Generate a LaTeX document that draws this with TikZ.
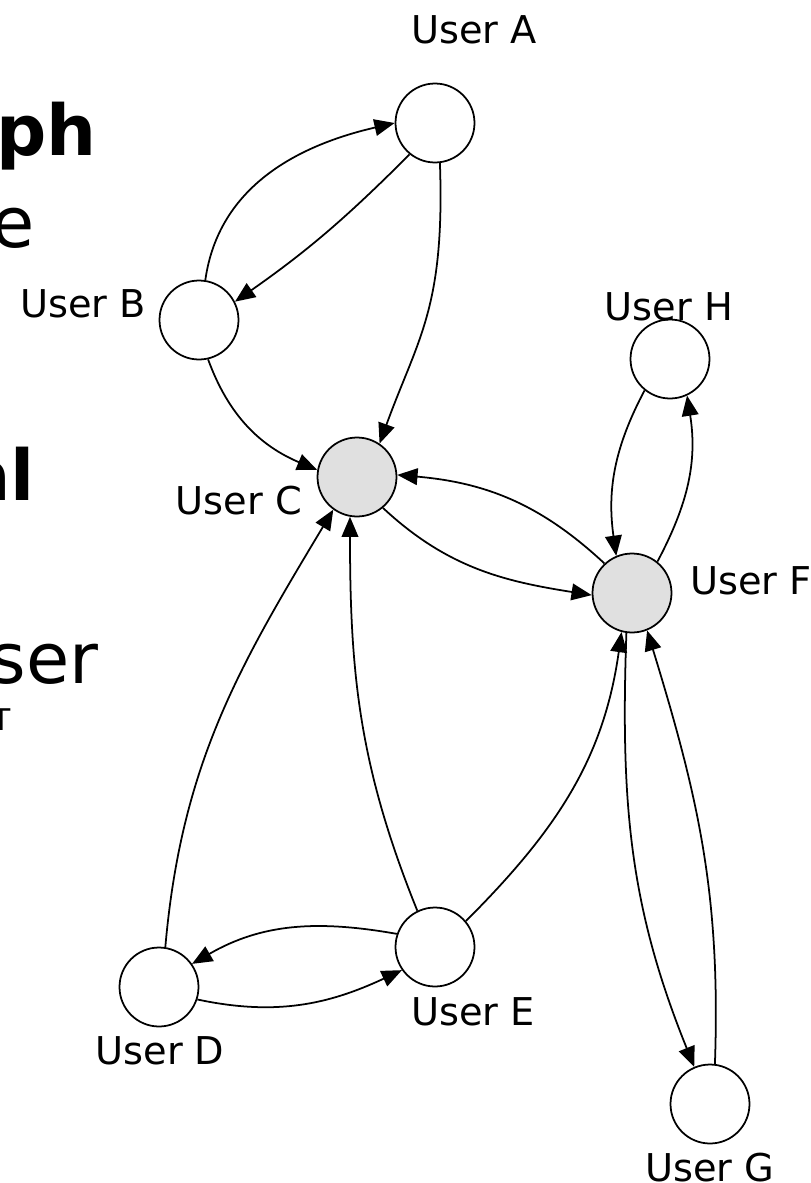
\documentclass[tikz,border=0pt]{standalone}
\usepackage{fontspec}
\setmainfont{DejaVu Sans}
\usetikzlibrary{arrows.meta}

\begin{document}
\begin{tikzpicture}[x=0.02cm,y=-0.02cm,
  user/.style={circle,draw,line width=1pt,minimum size=1.58cm,inner sep=0pt,fill=white},
  hub/.style={user,fill=black!12},
  lbl/.style={inner sep=0pt,font=\fontsize{21.8}{26}\selectfont},
  big/.style={inner sep=0pt,anchor=base east,font=\fontsize{40}{48}\selectfont},
  edge/.style={line width=1pt,-{Triangle[length=11.5pt,width=9.5pt]}}]
\useasboundingbox (0,0) rectangle (811,1183);
% slide text cut off at the left
\begin{scope}\clip (0,0) rectangle (811,1183);
\node[big] (tPh) at (97,155) {\bfseries ph};
\node[big] (tE) at (35,247) {e};
\node[big] (tAl) at (35,500) {\bfseries al};
\node[big] (tSer) at (99,683) {ser};
\node[inner sep=0pt,anchor=base,font=\fontsize{17}{20}\selectfont] (tT) at (1.5,730) {T};
\end{scope}
% users
\foreach \n/\x/\y in {A/435/123, B/199/320, H/670/359, E/435/947, D/159/987, G/710/1104}
  \node[user] (\n) at (\x,\y) {};
\node[hub] (C) at (357,477) {};
\node[hub] (F) at (632,593) {};
\foreach \n/\x/\y in {A/474/30, B/83/304, C/239/501, H/669/307, F/751/581, E/473/1012, D/160/1051, G/710/1168}
  \node[lbl] (l\n) at (\x,\y) {User \n};
% follows
\draw[edge] (B.81) to[out=82,in=193] (A.180);
\draw[edge] (A.231) to[out=225,in=35] (B.27);
\draw[edge] (A.277) to[out=272,in=70,out looseness=1.3] (C.56);
\draw[edge] (B.283) to[out=290,in=157] (C.170);
\draw[edge] (F.133) to[out=137,in=-5] (C.3);
\draw[edge] (C.310) to[out=317,in=171] (F.183);
\draw[edge] (H.231) to[out=242,in=98] (F.113);
\draw[edge] (F.51) to[out=62,in=279] (H.295);
\draw[edge] (D.81) to[out=85,in=239] (C.234);
\draw[edge] (E.116) to[out=112,in=270] (C.260);
\draw[edge] (E.40) to[out=45,in=262] (F.255);
\draw[edge] (F.262) to[out=268,in=112] (G.113);
\draw[edge] (G.83) to[out=88,in=287] (F.292);
\draw[edge] (E.161) to[out=170,in=30] (D.35);
\draw[edge] (D.342) to[out=348,in=205] (E.215);
\end{tikzpicture}
\end{document}
